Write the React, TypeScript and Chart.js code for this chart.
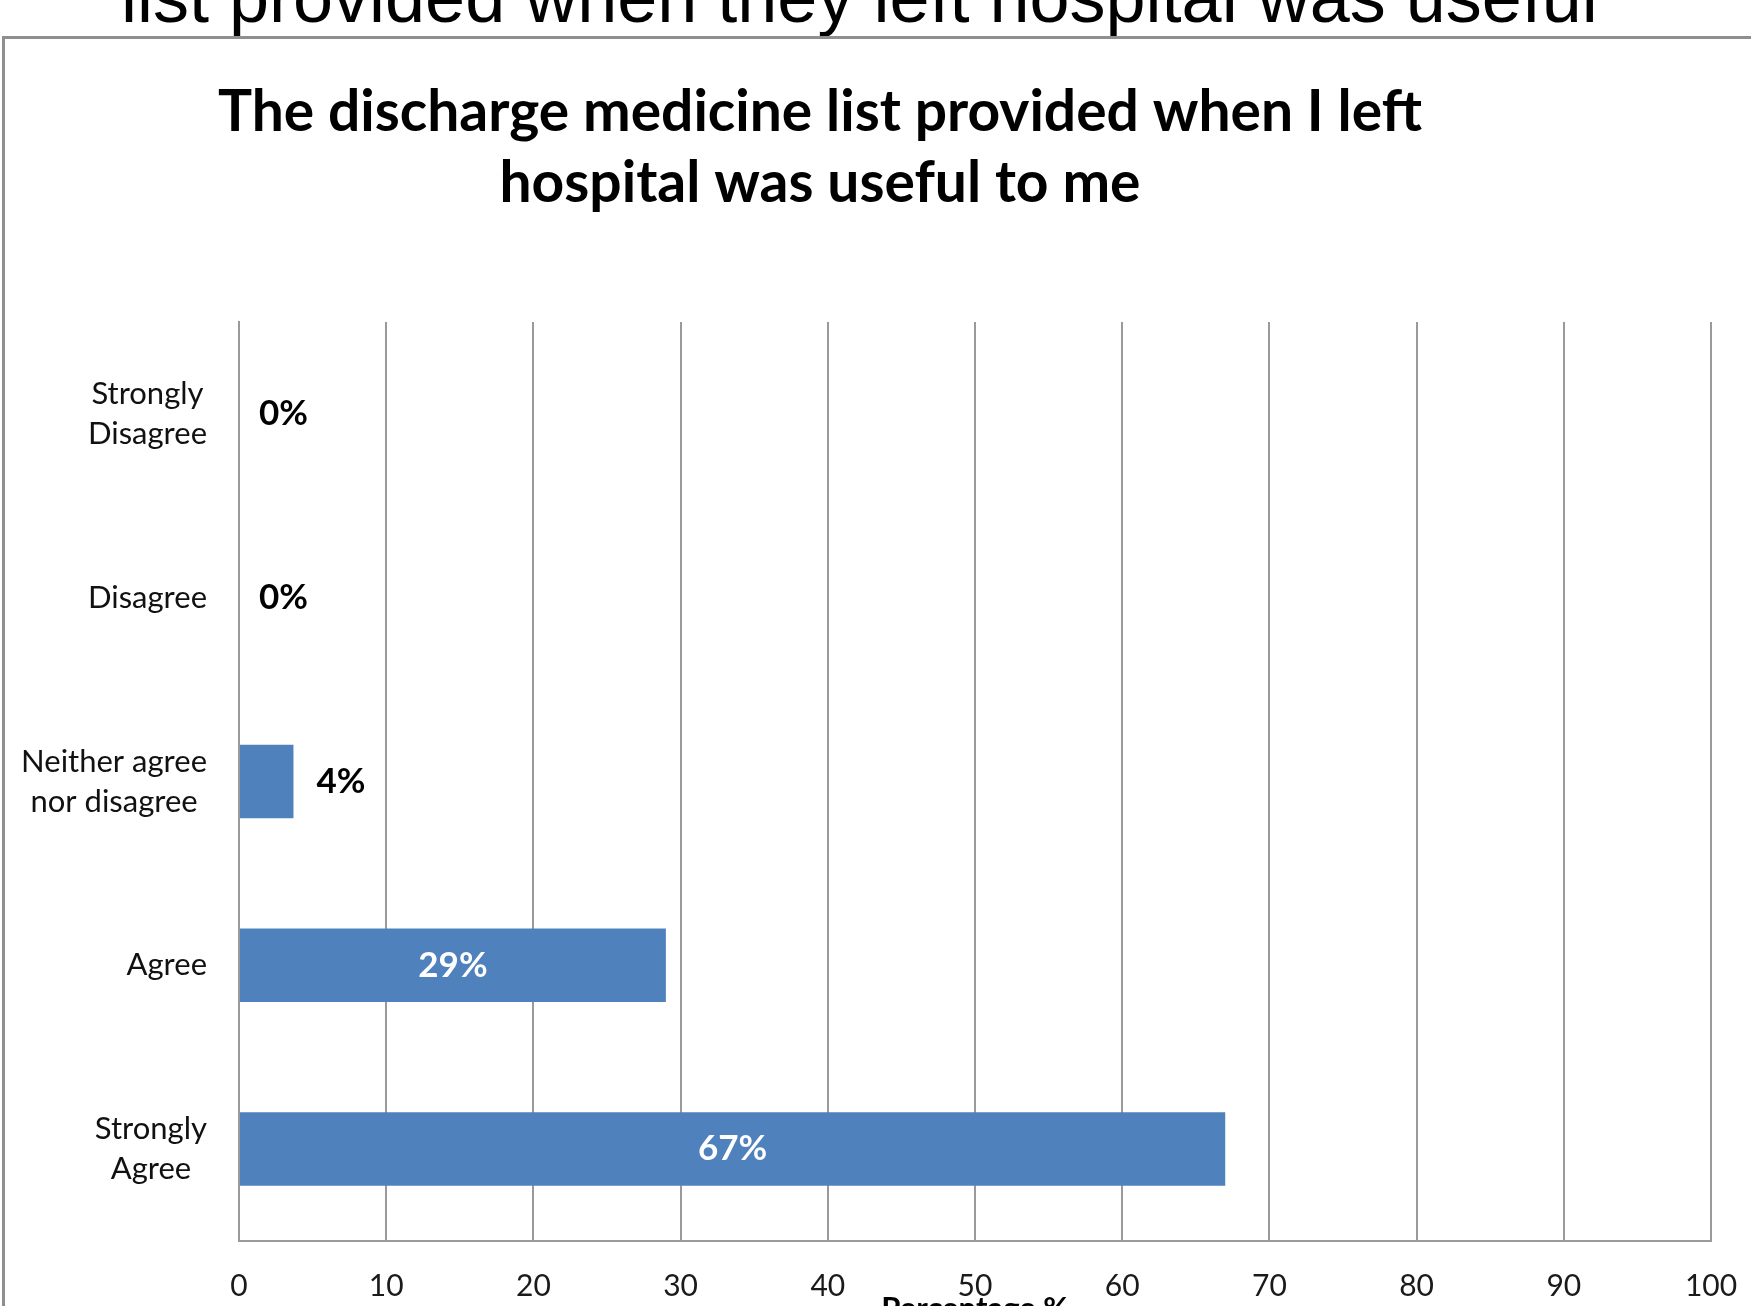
import React, { useEffect, useRef } from "react";
import { Chart, registerables } from "chart.js";

Chart.register(...registerables);

// ---- data ----
const slideHeading = "list provided when they left hospital was useful";
const chartTitle = ["The discharge medicine list provided when I left", "hospital was useful to me"];
const categories: string[][] = [
  ["Strongly", "Disagree"],
  ["Disagree"],
  ["Neither agree", "nor disagree"],
  ["Agree"],
  ["Strongly", "Agree"],
];
const values: number[] = [0, 0, 3.7, 29, 67];
const xMin = 0;
const xMax = 100;
const xStep = 10;
const xAxisTitle = "Percentage %";

// ---- layout / style ----
const W = 1751;
const H = 1400;
const PLOT_LEFT = 239;
const PLOT_RIGHT = 1711;
const PLOT_TOP = 322;
const PLOT_BOTTOM = 1241;
const XSCALE_H = 87;
const BAR_COLOR = "#4F81BD";
const GRID_COLOR = "#9a9a9a";
const FONT = "Lato, 'Open Sans', sans-serif";

const titlePlugin = {
  id: "slideTitle",
  afterDraw(chart: any) {
    const ctx = chart.ctx as CanvasRenderingContext2D;
    ctx.save();
    ctx.font = `bold 57px ${FONT}`;
    ctx.fillStyle = "#000";
    ctx.textAlign = "center";
    ctx.textBaseline = "alphabetic";
    const w = ctx.measureText(chartTitle[0]).width;
    const sx = 1204 / w;
    chartTitle.forEach((line, i) => {
      ctx.save();
      ctx.translate(820, 131 + i * 71);
      ctx.scale(sx, 1);
      ctx.fillText(line, 0, 0);
      ctx.restore();
    });
    ctx.restore();
  },
};

const yLabelPlugin = {
  id: "yLabels",
  afterDraw(chart: any) {
    const ctx = chart.ctx as CanvasRenderingContext2D;
    const ys = chart.scales.y;
    ctx.save();
    ctx.font = `31px ${FONT}`;
    ctx.fillStyle = "#111";
    ctx.textAlign = "center";
    ctx.textBaseline = "middle";
    const labels = chart.data.labels as string[][];
    labels.forEach((lines, i) => {
      const cy = ys.getPixelForTick(i);
      const bw = Math.max(...lines.map((l) => ctx.measureText(l).width));
      const cx = chart.chartArea.left - 32 - bw / 2;
      const n = lines.length;
      lines.forEach((l, j) => ctx.fillText(l, cx, cy + (j - (n - 1) / 2) * 40));
    });
    ctx.restore();
  },
};

const dataLabelPlugin = {
  id: "dataLabels",
  afterDatasetsDraw(chart: any) {
    const ctx = chart.ctx as CanvasRenderingContext2D;
    const meta = chart.getDatasetMeta(0);
    const data = chart.data.datasets[0].data as number[];
    ctx.save();
    ctx.font = `bold 35px ${FONT}`;
    ctx.textBaseline = "middle";
    meta.data.forEach((bar: any, i: number) => {
      const v = data[i];
      const { x, y, base } = bar.getProps(["x", "y", "base"], true);
      const text = Math.round(v) + "%";
      if (v >= 10) {
        ctx.fillStyle = "#fff";
        ctx.textAlign = "center";
        ctx.fillText(text, (x + base) / 2, y);
      } else {
        ctx.fillStyle = "#000";
        ctx.textAlign = "left";
        ctx.fillText(text, x + (v > 0 ? 23 : 20), y);
      }
    });
    ctx.restore();
  },
};

export default function App() {
  const ref = useRef<HTMLCanvasElement | null>(null);

  useEffect(() => {
    if (!ref.current) return;
    const chart = new Chart(ref.current, {
      type: "bar",
      data: {
        labels: categories as any,
        datasets: [
          {
            data: values,
            backgroundColor: BAR_COLOR,
            borderWidth: 0,
            barPercentage: 0.4,
            categoryPercentage: 1,
          },
        ],
      },
      options: {
        indexAxis: "y",
        responsive: false,
        animation: false,
        devicePixelRatio: 1,
        layout: {
          padding: {
            left: 0,
            right: W - PLOT_RIGHT,
            top: PLOT_TOP,
            bottom: H - PLOT_BOTTOM - XSCALE_H,
          },
        },
        plugins: {
          legend: { display: false },
          tooltip: { enabled: false },
          title: { display: false },
        },
        scales: {
          x: {
            type: "linear",
            position: "bottom",
            min: xMin,
            max: xMax,
            ticks: {
              stepSize: xStep,
              padding: 27,
              color: "#1a1a1a",
              font: { family: FONT, size: 30, lineHeight: 1.2 },
            },
            grid: {
              display: true,
              color: GRID_COLOR,
              lineWidth: 2,
              drawTicks: false,
            },
            border: { display: true, color: GRID_COLOR, width: 2 },
            title: {
              display: true,
              text: xAxisTitle,
              color: "#000",
              font: { family: FONT, size: 31, weight: "bold", lineHeight: 1.2 },
              padding: { top: 0, bottom: 0 },
            },
            afterFit(scale: any) {
              scale.height = XSCALE_H;
              scale.paddingLeft = 0;
              scale.paddingRight = 0;
            },
          },
          y: {
            type: "category",
            position: "left",
            ticks: { display: false },
            grid: { display: false, drawTicks: false },
            border: { display: true, color: GRID_COLOR, width: 2 },
            afterFit(scale: any) {
              scale.width = PLOT_LEFT;
              scale.paddingTop = 0;
              scale.paddingBottom = 0;
            },
          },
        },
      },
      plugins: [titlePlugin, yLabelPlugin, dataLabelPlugin],
    });
    return () => chart.destroy();
  }, []);

  return (
    <div
      style={{
        position: "fixed",
        left: 0,
        top: 0,
        width: W,
        height: 1306,
        overflow: "hidden",
        background: "#fff",
      }}
    >
      <div
        style={{
          position: "absolute",
          left: 121,
          top: -39,
          fontFamily: "'Liberation Sans', Arial, sans-serif",
          fontSize: 72,
          lineHeight: "72px",
          whiteSpace: "nowrap",
          color: "#000",
        }}
      >
        {slideHeading}
      </div>
      <div
        style={{
          position: "absolute",
          left: 2,
          top: 36,
          width: 1900,
          height: 1500,
          border: "3px solid #8f8f8f",
          boxSizing: "border-box",
        }}
      />
      <canvas
        ref={ref}
        width={W}
        height={H}
        style={{ position: "absolute", left: 0, top: 0, width: W, height: H }}
      />
    </div>
  );
}
